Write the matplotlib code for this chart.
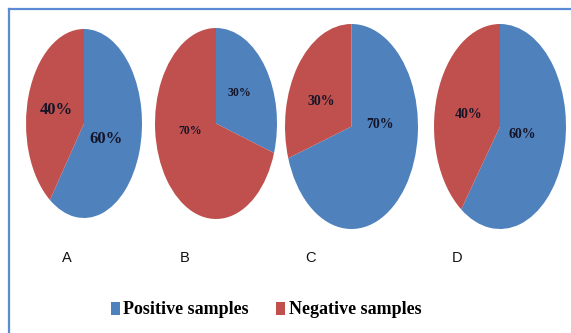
import matplotlib
matplotlib.use("Agg")
import matplotlib.pyplot as plt
from matplotlib.lines import Line2D
from matplotlib.patches import Patch

# ---- data ----
categories = ["A", "B", "C", "D"]
positive = [60, 30, 70, 60]
negative = [40, 70, 30, 40]
series_names = ["Positive samples", "Negative samples"]

# ---- style / layout ----
colors = ["#4F81BD", "#C0504D"]
W, H = 571, 333
# pie bounding boxes in pixels: left, top, right, bottom
boxes = [(26, 29, 142, 218), (155, 28, 277, 219), (285, 24, 418, 229), (434, 24, 566, 229)]
# label positions inside each ellipse (unit coords): (pos, neg)
label_pos = [((0.38, -0.16), (-0.47, 0.14)),
             ((0.38, 0.32), (-0.43, -0.08)),
             ((0.43, 0.02), (-0.46, 0.24)),
             ((0.33, -0.08), (-0.47, 0.12))]
label_sizes = [12, 8.5, 10, 10]
cat_x = [67, 185, 310, 457]

fig = plt.figure(figsize=(W / 100, H / 100), dpi=100)

for i, cat in enumerate(categories):
    l, t, r, b = boxes[i]
    ax = fig.add_axes([l / W, 1 - b / H, (r - l) / W, (b - t) / H])
    wedges, _, autotexts = ax.pie([positive[i], negative[i]], colors=colors,
                                  startangle=90, counterclock=False,
                                  autopct="%d%%", radius=1.0,
                                  wedgeprops=dict(linewidth=0))
    ax.set_aspect("auto")
    ax.set_xlim(-1, 1)
    ax.set_ylim(-1, 1)
    ax.axis("off")
    for j, txt in enumerate(autotexts):
        txt.set_position(label_pos[i][j])
        txt.set_fontfamily("Liberation Serif")
        txt.set_fontweight("bold")
        txt.set_fontsize(label_sizes[i])
        txt.set_color("#141428")
        txt.set_ha("center")
        txt.set_va("center")
    fig.text(cat_x[i] / W, 1 - 258 / H, cat, ha="center", va="center",
             fontsize=10.5, family="Liberation Sans", color="#111111")

# legend
handles = [Patch(facecolor=c, edgecolor="none") for c in colors]
leg = fig.legend(handles, series_names, loc="center", bbox_to_anchor=(266 / W, 1 - 310 / H),
                 ncol=2, frameon=False, handlelength=0.5, handleheight=0.75,
                 handletextpad=0.2, columnspacing=1.5,
                 prop=dict(family="Liberation Serif", weight="bold", size=13))

# frame border (top and left only visible)
fig.add_artist(Line2D([8.5 / W, 1.0], [1 - 9 / H, 1 - 9 / H], transform=fig.transFigure,
                      color="#5B8BD5", linewidth=1.6))
fig.add_artist(Line2D([8.5 / W, 8.5 / W], [1 - 9 / H, 0.0], transform=fig.transFigure,
                      color="#5B8BD5", linewidth=1.6))

fig.savefig("out.png", dpi=100)
